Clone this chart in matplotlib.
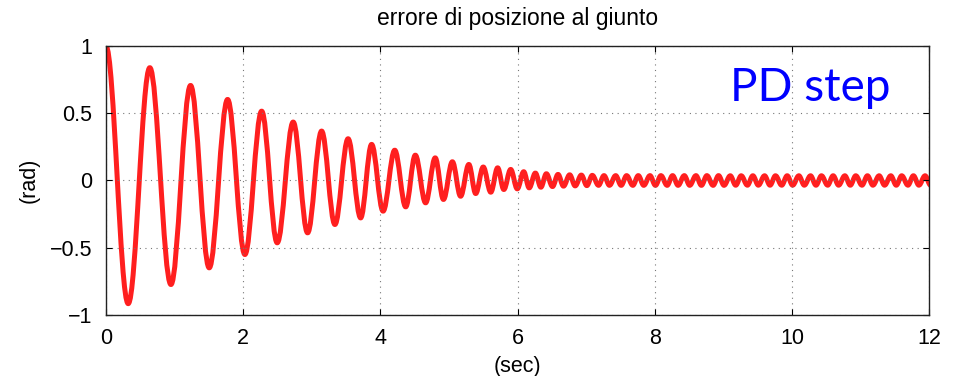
import matplotlib
matplotlib.use("Agg")
import matplotlib.pyplot as plt
from matplotlib.path import Path
from matplotlib.patches import PathPatch

plt.rcParams['font.family'] = ['Liberation Sans', 'DejaVu Sans']

# extrema of the joint position error (time in sec, value in rad)
t_ext = [0.0, 0.325, 0.64, 0.948, 1.234, 1.506, 1.774, 2.026, 2.27, 2.497,
         2.73, 2.94, 3.144, 3.338, 3.53, 3.713, 3.873, 4.04, 4.21, 4.37,
         4.51, 4.66, 4.80, 4.92, 5.05, 5.17, 5.29, 5.39, 5.50, 5.61,
         5.71, 5.80, 5.90, 5.996,
         6.09, 6.17, 6.26, 6.34, 6.42, 6.51, 6.59, 6.67, 6.76, 6.84,
         6.93, 7.01, 7.09, 7.18, 7.26, 7.34, 7.43, 7.51, 7.59, 7.68,
         7.76, 7.84, 7.93, 8.01, 8.09, 8.18, 8.26, 8.34, 8.43, 8.51,
         8.60, 8.68, 8.76, 8.85, 8.93, 9.01, 9.10, 9.18, 9.26, 9.35,
         9.43, 9.51, 9.60, 9.68, 9.76, 9.85, 9.93, 10.01, 10.10, 10.18,
         10.27, 10.35, 10.43, 10.52, 10.60, 10.68, 10.77, 10.85, 10.93, 11.02,
         11.10, 11.18, 11.27, 11.35, 11.44, 11.52, 11.60, 11.69, 11.77, 11.85,
         11.94, 12.02]
y_ext = [1.0, -0.915, 0.838, -0.773, 0.706, -0.649, 0.602, -0.55, 0.515, -0.463,
         0.434, -0.389, 0.367, -0.327, 0.31, -0.278, 0.268, -0.228, 0.225, -0.196,
         0.188, -0.166, 0.168, -0.141, 0.139, -0.117, 0.119, -0.097, 0.10, -0.087,
         0.094, -0.067, 0.082, -0.062,
         0.065, -0.055, 0.055, -0.05, 0.05, -0.045, 0.045, -0.042, 0.042, -0.04,
         0.04, -0.038, 0.038, -0.036, 0.036, -0.036, 0.036, -0.036, 0.036, -0.036,
         0.036, -0.036, 0.036, -0.036, 0.036, -0.036, 0.036, -0.036, 0.036, -0.036,
         0.036, -0.036, 0.036, -0.036, 0.036, -0.036, 0.035, -0.035, 0.035, -0.035,
         0.035, -0.035, 0.035, -0.035, 0.035, -0.035, 0.035, -0.035, 0.035, -0.035,
         0.035, -0.035, 0.035, -0.035, 0.035, -0.035, 0.035, -0.035, 0.035, -0.035,
         0.035, -0.035, 0.035, -0.035, 0.035, -0.035, 0.035, -0.035, 0.035, -0.035,
         0.035, -0.035]

xticks = [0, 2, 4, 6, 8, 10, 12]
yticks = [-1, -0.5, 0, 0.5, 1]
ytick_labels = ['\u22121', '\u22120.5', '0', '0.5', '1']

fig = plt.figure(figsize=(9.54, 3.76), dpi=100)
ax = fig.add_axes([0.111, 0.162, 0.863, 0.716])

# smooth half-wave bezier between consecutive extrema
verts = [(t_ext[0], y_ext[0])]
codes = [Path.MOVETO]
for i in range(len(t_ext) - 1):
    t0, y0, t1, y1 = t_ext[i], y_ext[i], t_ext[i + 1], y_ext[i + 1]
    d = 0.364 * (t1 - t0)
    verts += [(t0 + d, y0), (t1 - d, y1), (t1, y1)]
    codes += [Path.CURVE4] * 3
ax.add_patch(PathPatch(Path(verts, codes), fill=False, edgecolor='#ff1f1f',
                       lw=3.6, capstyle='round', joinstyle='round'))

ax.set_xlim(0, 12)
ax.set_ylim(-1, 1)
ax.set_xticks(xticks)
ax.set_yticks(yticks)
ax.set_yticklabels(ytick_labels)
ax.tick_params(direction='in', top=True, right=True, length=4, labelsize=15.5,
               width=0.8)
ax.tick_params(axis='x', pad=9)
ax.tick_params(axis='y', pad=10)
ax.grid(True, color='#777777', linestyle=(0, (1, 4)), linewidth=0.8)
for s in ax.spines.values():
    s.set_linewidth(1.0)
    s.set_color('#222222')

ax.set_title('errore di posizione al giunto', fontsize=16.5, pad=15)
ax.set_xlabel('(sec)', fontsize=15.5, labelpad=5)
ax.set_ylabel('(rad)', fontsize=15.5, labelpad=7)

ax.text(9.1, 0.59, 'PD step', color='#0000ff', fontsize=33, family='Lato',
        va='baseline', ha='left')

fig.savefig('out.png', dpi=100)
